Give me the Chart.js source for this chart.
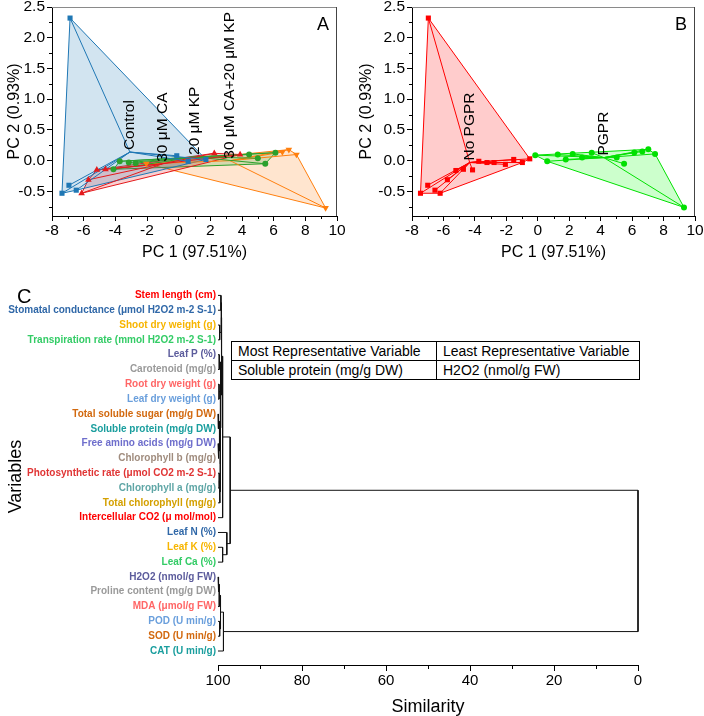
<!DOCTYPE html>
<html lang="en">
<head>
<meta charset="UTF-8">
<title>PCA e dendrograma</title>
<script src="https://cdn.jsdelivr.net/npm/chart.js"></script>
<style>
    body { margin: 0; background: #fff; font-family: "Liberation Sans", Arial, sans-serif; }
    #tela { position: relative; width: 704px; height: 716px; overflow: hidden; }
    .caixa { position: absolute; }
    .letra { position: absolute; line-height: 1; color: #000; }
    #tabela { position: absolute; left: 231px; top: 341px; width: 409px; border-collapse: collapse; font-size: 14px; background: #fff; }
    #tabela td { border: 1px solid #000; height: 18px; padding: 0 6px; line-height: 18px; white-space: nowrap; }
</style>
</head>
<body>
<div id="tela">
    <div class="caixa" style="left:0;top:0"><canvas id="pcaA" width="350" height="262"></canvas></div>
    <div class="caixa" style="left:350px;top:0"><canvas id="pcaB" width="354" height="262"></canvas></div>
    <div class="caixa" style="left:0;top:280px"><canvas id="dendro" width="704" height="436"></canvas></div>

    <div class="letra" style="left:317px;top:15px;font-size:18px">A</div>
    <div class="letra" style="left:675px;top:15px;font-size:18px">B</div>
    <div class="letra" style="left:17px;top:286px;font-size:20px">C</div>

    <table id="tabela">
        <tr><td style="width:192px">Most Representative Variable</td><td>Least Representative Variable</td></tr>
        <tr><td>Soluble protein (mg/g DW)</td><td>H2O2 (nmol/g FW)</td></tr>
    </table>
</div>

<script>
    // ----- painel A: tratamentos -----
    const controleX = [-6.86, -7.37, -6.93, -6.47, -0.12, 0.60, 1.72];
    const controleY = [2.32, -0.53, -0.40, -0.48, 0.08, -0.01, 0.02];
    const caX = [-6.13, -5.70, -5.17, -4.62, 2.25, 3.88];
    const caY = [-0.53, -0.31, -0.15, -0.14, 0.12, 0.10];
    const kpX = [-4.12, -3.72, -3.15, -2.72, 4.45, 5.00, 5.47, 6.11];
    const kpY = [-0.14, -0.01, -0.03, -0.04, 0.10, 0.04, -0.05, 0.13];
    const cakpX = [-2.04, 6.55, 6.96, 7.44, 9.28];
    const cakpY = [-0.05, 0.14, 0.18, 0.10, -0.77];
    const centroAX = [-3.08, -1.02, 1.02, 3.25];
    const centroAY = [0.14, -0.05, 0.06, 0.0];
    const gruposA = ['Control', '30 μM CA', '20 μM KP', '30 μM CA+20 μM KP'];

    // ----- painel B: PGPR -----
    const semX = [-6.96, -7.46, -7.00, -6.54, -6.21, -5.75, -5.21, -4.73, -4.15, -3.75, -3.23, -2.78, -2.06, -1.53, -0.98, -0.51];
    const semY = [2.32, -0.53, -0.40, -0.48, -0.53, -0.31, -0.16, -0.14, -0.15, -0.01, -0.03, -0.03, -0.06, 0.02, -0.03, 0.03];
    const pgprX = [-0.16, 0.60, 1.27, 1.78, 2.22, 2.82, 3.43, 5.02, 5.49, 6.14, 6.65, 7.03, 7.46, 9.30];
    const pgprY = [0.09, -0.01, 0.10, 0.02, 0.11, 0.05, 0.13, 0.05, -0.05, 0.135, 0.15, 0.185, 0.11, -0.76];
    const centroBX = [-4.33, 4.20];
    const centroBY = [-0.03, 0.05];
    const gruposB = ['No PGPR', 'PGPR'];

    const pcaXTicks = [-8, -6, -4, -2, 0, 2, 4, 6, 8, 10];
    const pcaXMenor = [-7, -5, -3, -1, 1, 3, 5, 7, 9];
    const pcaYTicks = [-0.5, 0, 0.5, 1, 1.5, 2, 2.5];
    const pcaYMenor = [-0.75, -0.25, 0.25, 0.75, 1.25, 1.75, 2.25];

    // ----- painel C: agrupamento -----
    const variaveis = [
        'Stem length (cm)',
        'Stomatal conductance (μmol H2O2 m-2 S-1)',
        'Shoot dry weight (g)',
        'Transpiration rate (mmol H2O2 m-2 S-1)',
        'Leaf P (%)',
        'Carotenoid (mg/g)',
        'Root dry weight (g)',
        'Leaf dry weight (g)',
        'Total soluble sugar (mg/g DW)',
        'Soluble protein (mg/g DW)',
        'Free amino acids (mg/g DW)',
        'Chlorophyll b (mg/g)',
        'Photosynthetic rate (μmol CO2 m-2 S-1)',
        'Chlorophyll a (mg/g)',
        'Total chlorophyll (mg/g)',
        'Intercellular CO2 (μ mol/mol)',
        'Leaf N (%)',
        'Leaf K (%)',
        'Leaf Ca (%)',
        'H2O2 (nmol/g FW)',
        'Proline content (mg/g DW)',
        'MDA (μmol/g FW)',
        'POD (U min/g)',
        'SOD (U min/g)',
        'CAT (U min/g)'
    ];
    // cada junção cria o nó 25 + k
    const juntaA = [0, 2, 25, 4, 6, 8, 10, 12, 32, 30, 34, 29, 28, 27, 38, 17, 16, 39, 19, 43, 22, 44, 46, 42];
    const juntaB = [1, 3, 26, 5, 7, 9, 11, 13, 14, 31, 33, 35, 36, 37, 15, 18, 40, 41, 20, 21, 23, 45, 24, 47];
    const similaridade = [99.3, 99.6, 99.2, 99.7, 99.75, 99.85, 99.8, 99.7, 99.55, 99.65, 99.45, 99.4, 99.35, 99.15, 98.9, 98.9, 97.9, 97.1, 99.8, 99.7, 99.6, 99.4, 98.7, 0];
    const simTicks = [100, 80, 60, 40, 20, 0];
    const simMenor = [90, 70, 50, 30, 10];

    const paleta = ['#ff0000', '#3068a8', '#f7b500', '#33cc66', '#5c5c9c', '#9a9a9a', '#ff6666', '#6a9fdc',
        '#d2690f', '#1a9e9e', '#6e6ecc', '#a08c7e', '#e03535', '#5fa6a6', '#d4a000'];

    Chart.defaults.font.family = "'Liberation Sans', Arial, sans-serif";
    Chart.defaults.color = '#000';
    Chart.defaults.animation = false;

    function pontos(xs, ys) {
        return xs.map((x, i) => ({ x: x, y: ys[i] }));
    }

    // envoltória convexa (cadeia monótona)
    function casco(pts) {
        const p = pts.slice().sort((a, b) => a.x - b.x || a.y - b.y);
        const cruz = (o, a, b) => (a.x - o.x) * (b.y - o.y) - (a.y - o.y) * (b.x - o.x);
        const baixo = [];
        for (const q of p) {
            while (baixo.length >= 2 && cruz(baixo[baixo.length - 2], baixo[baixo.length - 1], q) <= 0) baixo.pop();
            baixo.push(q);
        }
        const cima = [];
        for (const q of p.slice().reverse()) {
            while (cima.length >= 2 && cruz(cima[cima.length - 2], cima[cima.length - 1], q) <= 0) cima.pop();
            cima.push(q);
        }
        baixo.pop();
        cima.pop();
        return baixo.concat(cima);
    }

    function montarGrupos(grupos) {
        const ds = [];
        grupos.forEach(g => {
            const pts = pontos(g.xs, g.ys);
            const h = casco(pts);
            ds.push({
                data: h.concat([h[0]]), showLine: true, fill: 'shape', spanGaps: false,
                borderColor: g.cor, backgroundColor: g.fundo, borderWidth: 1, pointRadius: 0, order: 3
            });
            const estrela = [];
            pts.forEach(p => { estrela.push({ x: g.cx, y: g.cy }, p, { x: p.x, y: null }); });
            ds.push({
                data: estrela, showLine: true, fill: false, spanGaps: false,
                borderColor: g.cor, borderWidth: 1, pointRadius: 0, order: 2
            });
            ds.push({
                data: pts, showLine: false, pointStyle: g.marca, rotation: g.giro || 0,
                pointRadius: g.raio, backgroundColor: g.cor, borderColor: g.cor, borderWidth: 0, order: 1
            });
        });
        return ds;
    }

    const tiquesMenores = {
        id: 'tiquesMenores',
        afterDraw(chart, args, o) {
            const { ctx, chartArea: a, scales } = chart;
            ctx.save();
            ctx.strokeStyle = '#000';
            ctx.lineWidth = 1;
            (o.x || []).forEach(v => {
                const px = Math.round(scales.x.getPixelForValue(v)) + 0.5;
                ctx.beginPath(); ctx.moveTo(px, a.bottom); ctx.lineTo(px, a.bottom + o.tam); ctx.stroke();
            });
            (o.y || []).forEach(v => {
                const py = Math.round(scales.y.getPixelForValue(v)) + 0.5;
                ctx.beginPath(); ctx.moveTo(a.left, py); ctx.lineTo(a.left - o.tam, py); ctx.stroke();
            });
            ctx.restore();
        }
    };

    const moldura = {
        id: 'moldura',
        afterDraw(chart) {
            const { ctx, chartArea: a } = chart;
            ctx.save();
            ctx.lineWidth = 1;
            ctx.strokeStyle = '#8a8a8a';
            ctx.beginPath(); ctx.moveTo(a.left, a.top + 0.5); ctx.lineTo(a.right, a.top + 0.5); ctx.stroke();
            ctx.strokeStyle = '#444';
            ctx.beginPath(); ctx.moveTo(a.right - 0.5, a.top); ctx.lineTo(a.right - 0.5, a.bottom); ctx.stroke();
            ctx.restore();
        }
    };

    const rotulosGrupo = {
        id: 'rotulosGrupo',
        afterDatasetsDraw(chart, args, o) {
            const { ctx, scales } = chart;
            ctx.save();
            ctx.fillStyle = '#000';
            ctx.font = "15.5px 'Liberation Sans', Arial, sans-serif";
            ctx.textAlign = 'left';
            ctx.textBaseline = 'middle';
            o.textos.forEach((t, i) => {
                ctx.save();
                ctx.translate(scales.x.getPixelForValue(o.xs[i]), scales.y.getPixelForValue(o.ys[i]));
                ctx.rotate(-Math.PI / 2);
                ctx.fillText(t, 2, 0);
                ctx.restore();
            });
            ctx.restore();
        }
    };

    function graficoPca(id, grupos, rotulos, cx, cy, larguraY, dir, padTitulo) {
        return new Chart(document.getElementById(id), {
            type: 'scatter',
            data: { datasets: montarGrupos(grupos) },
            plugins: [tiquesMenores, moldura, rotulosGrupo],
            options: {
                responsive: false,
                layout: { padding: { left: 0, right: dir, top: 7, bottom: 0 } },
                plugins: {
                    legend: { display: false },
                    tooltip: { enabled: false },
                    tiquesMenores: { x: pcaXMenor, y: pcaYMenor, tam: 3 },
                    rotulosGrupo: { textos: rotulos, xs: cx, ys: cy }
                },
                scales: {
                    x: {
                        type: 'linear', min: -8, max: 10,
                        afterBuildTicks: s => { s.ticks = pcaXTicks.map(v => ({ value: v })); },
                        afterFit: s => { s.height = 46; s.paddingLeft = 0; s.paddingRight = 0; },
                        ticks: { font: { size: 15.5 }, padding: 0, callback: v => String(v) },
                        grid: { drawOnChartArea: false, tickLength: 5, color: '#000' },
                        border: { color: '#000' },
                        title: { display: true, text: 'PC 1 (97.51%)', font: { size: 16 }, padding: 0 }
                    },
                    y: {
                        type: 'linear', min: -0.9, max: 2.5,
                        afterBuildTicks: s => { s.ticks = pcaYTicks.map(v => ({ value: v })); },
                        afterFit: s => { s.width = larguraY; s.paddingTop = 0; s.paddingBottom = 0; },
                        ticks: { font: { size: 15.5 }, padding: 2, callback: v => v.toFixed(1) },
                        grid: { drawOnChartArea: false, tickLength: 5, color: '#000' },
                        border: { color: '#000' },
                        title: { display: true, text: 'PC 2 (0.93%)', font: { size: 16 }, padding: { top: padTitulo, bottom: 0 } }
                    }
                }
            }
        });
    }

    graficoPca('pcaA', [
        { xs: controleX, ys: controleY, cx: centroAX[0], cy: centroAY[0], cor: '#1f77b4', fundo: 'rgba(31,119,180,0.2)', marca: 'rect', raio: 3.6 },
        { xs: caX, ys: caY, cx: centroAX[1], cy: centroAY[1], cor: '#e31a1c', fundo: 'rgba(227,26,28,0.2)', marca: 'triangle', raio: 3.8 },
        { xs: kpX, ys: kpY, cx: centroAX[2], cy: centroAY[2], cor: '#2ca02c', fundo: 'rgba(44,160,44,0.2)', marca: 'circle', raio: 3 },
        { xs: cakpX, ys: cakpY, cx: centroAX[3], cy: centroAY[3], cor: '#ff7f0e', fundo: 'rgba(255,127,14,0.2)', marca: 'triangle', giro: 180, raio: 3.8 }
    ], gruposA, centroAX, centroAY, 52, 13, 5);

    graficoPca('pcaB', [
        { xs: semX, ys: semY, cx: centroBX[0], cy: centroBY[0], cor: '#ff0000', fundo: 'rgba(255,0,0,0.2)', marca: 'rect', raio: 3.6 },
        { xs: pgprX, ys: pgprY, cx: centroBX[1], cy: centroBY[1], cor: '#00e000', fundo: 'rgba(0,255,0,0.2)', marca: 'circle', raio: 3 }
    ], gruposB, centroBX, centroBY, 62, 9, 7);

    // ----- dendrograma -----
    function montarDendrograma() {
        const posX = variaveis.map(() => 100);
        const posY = variaveis.map((_, i) => i);
        const seg = [];
        juntaA.forEach((a, k) => {
            const b = juntaB[k];
            const s = similaridade[k];
            seg.push({ x: posX[a], y: posY[a] }, { x: s, y: posY[a] }, { x: s, y: posY[b] }, { x: posX[b], y: posY[b] }, { x: s, y: null });
            posX.push(s);
            posY.push((posY[a] + posY[b]) / 2);
        });
        return seg;
    }

    new Chart(document.getElementById('dendro'), {
        type: 'scatter',
        data: {
            datasets: [{
                data: montarDendrograma(), showLine: true, spanGaps: false, clip: 3,
                borderColor: '#111', borderWidth: 1, pointRadius: 0
            }]
        },
        plugins: [tiquesMenores],
        options: {
            responsive: false,
            layout: { padding: { left: 0, right: 66, top: 7.6, bottom: 0 } },
            plugins: {
                legend: { display: false },
                tooltip: { enabled: false },
                tiquesMenores: { x: simMenor, tam: 4 }
            },
            scales: {
                x: {
                    type: 'linear', min: 0, max: 100, reverse: true,
                    afterBuildTicks: s => { s.ticks = simTicks.map(v => ({ value: v })); },
                    afterFit: s => { s.height = 51; },
                    ticks: { font: { size: 15 }, padding: 1 },
                    grid: { drawOnChartArea: false, tickLength: 6, color: '#000' },
                    border: { color: '#000' },
                    title: { display: true, text: 'Similarity', font: { size: 18, lineHeight: 1 }, padding: 0 }
                },
                y: {
                    type: 'linear', min: -0.5, max: 24.944, reverse: true,
                    afterBuildTicks: s => { s.ticks = variaveis.map((_, i) => ({ value: i })); },
                    afterFit: s => { s.width = 218; },
                    ticks: {
                        font: { size: 10, weight: 'bold' }, padding: 2,
                        color: c => paleta[c.tick.value % paleta.length],
                        callback: v => variaveis[v]
                    },
                    grid: { display: false, drawTicks: false },
                    border: { display: false },
                    title: { display: true, text: 'Variables', font: { size: 18 }, padding: { top: 5, bottom: 0 } }
                }
            }
        }
    });
</script>
</body>
</html>
